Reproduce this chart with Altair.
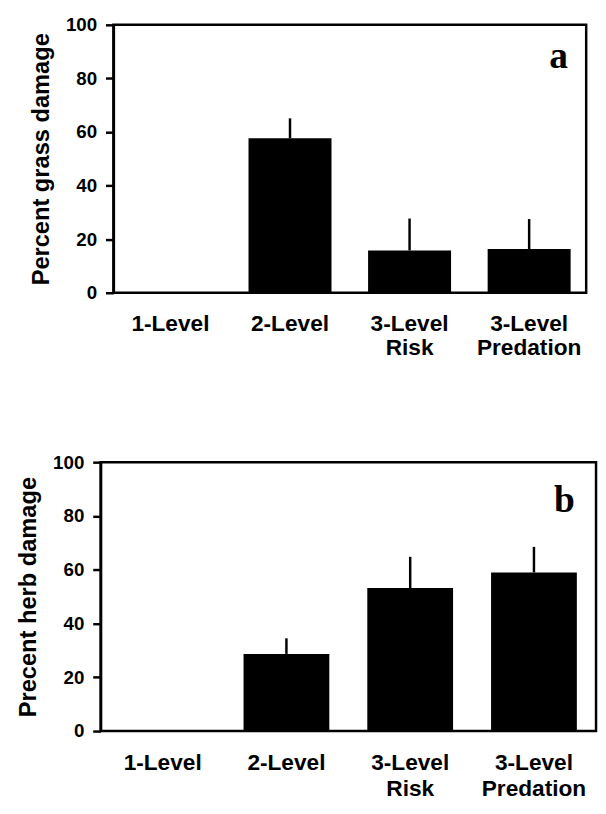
import altair as alt
import pandas as pd

categories = ["1-Level", "2-Level", "3-Level Risk", "3-Level Predation"]
grass_mean = [0, 57.7, 15.8, 16.3]
grass_upper = [0, 65.1, 27.7, 27.5]
herb_mean = [0, 28.7, 53.2, 59.0]
herb_upper = [0, 34.5, 64.8, 68.5]
y_ticks = [0, 20, 40, 60, 80, 100]

FONT = "Liberation Sans"


def panel(mean, upper, title, letter, letter_y, letter_dx, width, height,
          pad_inner, pad_outer, lab_pad, lab_lh):
    df = pd.DataFrame({"cat": categories, "mean": mean, "upper": upper})
    xscale = alt.Scale(domain=categories, paddingInner=pad_inner,
                       paddingOuter=pad_outer)
    x = alt.X("cat:N", scale=xscale, sort=categories,
              axis=alt.Axis(title=None, labelAngle=0, ticks=False, domain=False,
                            labelFont=FONT, labelFontSize=23, labelFontWeight="bold",
                            labelColor="black", labelPadding=lab_pad,
                            labelLineHeight=lab_lh,
                            labelExpr="split(datum.label, ' ')"))
    y = alt.Y("mean:Q", scale=alt.Scale(domain=[0, 100], nice=False),
              axis=alt.Axis(title=title, values=y_ticks, grid=False,
                            tickSize=8, tickWidth=2.5, tickColor="black",
                            domainColor="black", domainWidth=2.5,
                            labelFont=FONT, labelFontSize=19, labelFontWeight="bold",
                            labelColor="black", labelPadding=9,
                            titleFont=FONT, titleFontSize=24, titleFontWeight="bold",
                            titleColor="black", titlePadding=12))
    bars = alt.Chart(df).mark_bar(color="black").encode(x=x, y=y)
    errs = alt.Chart(df).transform_filter("datum.upper > 0").mark_rule(
        color="black", strokeWidth=2.5).encode(x=alt.X("cat:N", sort=categories),
                                              y="mean:Q", y2="upper:Q")
    lab = pd.DataFrame({"cat": [categories[-1]], "v": [letter_y], "t": [letter]})
    text = alt.Chart(lab).mark_text(font="Liberation Serif", fontSize=38,
                                    fontWeight="bold", dx=letter_dx,
                                    baseline="alphabetic", color="black").encode(
        x=alt.X("cat:N", sort=categories), y="v:Q", text="t:N")
    return alt.layer(bars, errs, text).properties(width=width, height=height)


def spacer(w, h):
    return alt.Chart(pd.DataFrame({"s": [0]})).mark_point(opacity=0, size=1).encode(
        x=alt.value(0), y=alt.value(h / 2)
    ).properties(width=w, height=h, view=alt.ViewBackground(strokeOpacity=0))


a = panel(grass_mean, grass_upper, "Percent grass damage", "a", 84, 30,
          480, 272, 0.306, 0.13, 20, 25)
b = panel(herb_mean, herb_upper, "Precent herb damage", "b", 81.5, 31,
          503, 273, 0.307, 0.155, 21, 26)

row_a = alt.hconcat(spacer(15, 272), a, spacing=0)
row_b = alt.hconcat(spacer(2, 273), b, spacing=0)

chart = alt.vconcat(row_a, row_b, spacing=91).configure_view(
    stroke="black", strokeWidth=2.5
).properties(padding={"left": 5, "top": 0, "right": 0, "bottom": 0},
             background="white")

chart.save("out.html", embed_options={"renderer": "svg", "actions": False})
